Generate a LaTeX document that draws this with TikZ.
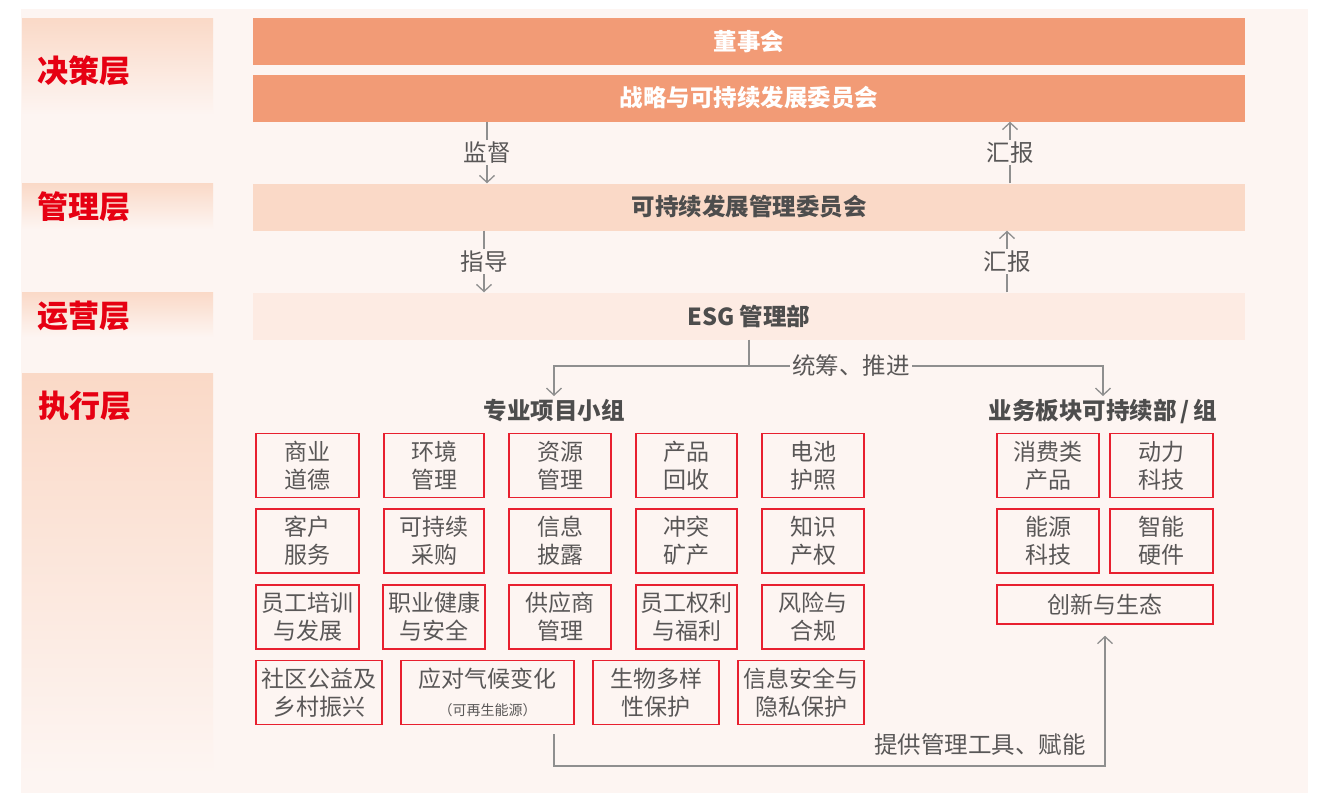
\documentclass[tikz,border=0pt]{standalone}
\usepackage{fontspec}
\setmainfont{Noto Sans CJK SC}
\usetikzlibrary{arrows.meta}
\definecolor{bgc}{HTML}{FDF5F2}
\definecolor{salmon}{HTML}{F29B76}
\definecolor{peach}{HTML}{FAD9C7}
\definecolor{pale}{HTML}{FDEBE3}
\definecolor{lred}{HTML}{E60012}
\definecolor{bred}{HTML}{E8202F}
\definecolor{tgray}{HTML}{595757}
\definecolor{dgray}{HTML}{4D4D4D}
\definecolor{lgray}{HTML}{8F8F8F}
\tikzset{
  layerlbl/.style={text=lred,font=\fontsize{31}{34}\selectfont\bfseries,inner sep=0pt},
  mainbox/.style={minimum width=992pt,minimum height=47pt,inner sep=0pt,font=\fontsize{23.5}{26}\selectfont\bfseries},
  conn/.style={draw=lgray,line width=1.3pt},
  tip/.style={-{Straight Barb[length=7pt,width=15pt,line width=1.3pt]}},
  lbl/.style={fill=bgc,text=tgray,inner sep=2pt,font=\fontsize{23.5}{26}\selectfont},
  head/.style={text=dgray,font=\fontsize{23.5}{26}\selectfont\bfseries,inner sep=0pt},
  gbox/.style={draw=bred,line width=1.5pt,text=tgray,align=center,inner sep=0pt,
    minimum height=64pt,font=\fontsize{23}{28}\selectfont},
}
\begin{document}
\begin{tikzpicture}[x=1pt,y=-1pt]
\useasboundingbox (0,0) rectangle (1322,793);
\fill[bgc] (21,9) rectangle (1308,793);
% layer bands
\shade[top color=peach,bottom color=bgc] (22,18) rectangle (213,115);
\shade[top color=peach,bottom color=bgc] (22,183) rectangle (213,229);
\shade[top color=peach,bottom color=bgc] (22,292) rectangle (213,337);
\shade[top color=peach,bottom color=bgc] (22,373) rectangle (213,775);
\node[layerlbl] (L1) at (84,71) {决策层};
\node[layerlbl] (L2) at (84,207) {管理层};
\node[layerlbl] (L3) at (84,316) {运营层};
\node[layerlbl] (L4) at (85,406) {执行层};
% main boxes
\node[mainbox,fill=salmon,text=white] (board) at (749,41.5) {董事会};
\node[mainbox,fill=salmon,text=white] (strat) at (749,98) {战略与可持续发展委员会};
\node[mainbox,fill=peach,text=dgray] (mgmt) at (749,207) {可持续发展管理委员会};
\node[mainbox,fill=pale,text=dgray] (esg) at (749,316) {ESG 管理部};
% vertical relations
\coordinate (xa) at (487,0);
\coordinate (xb) at (1010,0);
\coordinate (xc) at (484,0);
\coordinate (xd) at (1007,0);
\draw[conn,tip] (strat.south -| xa) -- node[lbl] {监督} (mgmt.north -| xa);
\draw[conn,tip] (mgmt.north -| xb) -- node[lbl] {汇报} (strat.south -| xb);
\draw[conn,tip] (mgmt.south -| xc) -- node[lbl] {指导} (esg.north -| xc);
\draw[conn,tip] (esg.north -| xd) -- node[lbl] {汇报} (mgmt.south -| xd);
% split
\coordinate (split) at (749,366);
\coordinate (lbr) at (554,366);
\coordinate (rbr) at (1103,366);
\coordinate (lend) at (554,396);
\coordinate (rend) at (1103,396);
\draw[conn] (esg.south -| split) -- (split);
\draw[conn,tip] (split) -- (lbr) -- (lend);
\draw[conn,tip] (split) -- (rbr) -- (rend);
\node[lbl] (tc) at (851,366) {统筹、推进};
% headings
\node[head] (h1) at (554,411) {专业项目小组};
\node[head] (h2) at (1103,411) {业务板块可持续部\,/\,组};
% grid
\node[gbox,minimum width=103pt] (a1) at (307.5,465.5) {商业\\道德};
\node[gbox,minimum width=100pt] (a2) at (434,465.5) {环境\\管理};
\node[gbox,minimum width=102pt] (a3) at (560,465.5) {资源\\管理};
\node[gbox,minimum width=101pt] (a4) at (686.5,465.5) {产品\\回收};
\node[gbox,minimum width=102pt] (a5) at (813,465.5) {电池\\护照};
\node[gbox,minimum width=103pt] (b1) at (307.5,541) {客户\\服务};
\node[gbox,minimum width=100pt] (b2) at (434,541) {可持续\\采购};
\node[gbox,minimum width=102pt] (b3) at (560,541) {信息\\披露};
\node[gbox,minimum width=101pt] (b4) at (686.5,541) {冲突\\矿产};
\node[gbox,minimum width=102pt] (b5) at (813,541) {知识\\产权};
\node[gbox,minimum width=103pt] (c1) at (307.5,617) {员工培训\\与发展};
\node[gbox,minimum width=102pt] (c2) at (434,617) {职业健康\\与安全};
\node[gbox,minimum width=102pt] (c3) at (560,617) {供应商\\管理};
\node[gbox,minimum width=101pt] (c4) at (686.5,617) {员工权利\\与福利};
\node[gbox,minimum width=102pt] (c5) at (813,617) {风险与\\合规};
\node[gbox,minimum width=126pt] (d1) at (319,692.5) {社区公益及\\乡村振兴};
\node[gbox,minimum width=173pt] (d2) at (487.5,692.5) {应对气候变化\\{\fontsize{14}{16}\selectfont （可再生能源）}};
\node[gbox,minimum width=126pt] (d3) at (656,692.5) {生物多样\\性保护};
\node[gbox,minimum width=126pt] (d4) at (801,692.5) {信息安全与\\隐私保护};
% right grid
\node[gbox,minimum width=102pt] (e1) at (1048,465.5) {消费类\\产品};
\node[gbox,minimum width=103pt] (e2) at (1161.5,465.5) {动力\\科技};
\node[gbox,minimum width=102pt] (e3) at (1048,541) {能源\\科技};
\node[gbox,minimum width=103pt] (e4) at (1161.5,541) {智能\\硬件};
\node[gbox,minimum width=216pt,minimum height=39pt] (e5) at (1105,604.5) {创新与生态};
% bottom connector
\coordinate (bs) at (554,734);
\coordinate (bc1) at (554,766);
\coordinate (bc2) at (1105,766);
\draw[conn,tip,shorten >=11pt] (bs) -- (bc1) -- (bc2) -- (e5.south);
\node[lbl,fill=none,anchor=east] (tl) at (1088,745) {提供管理工具、赋能};
\end{tikzpicture}
\end{document}
